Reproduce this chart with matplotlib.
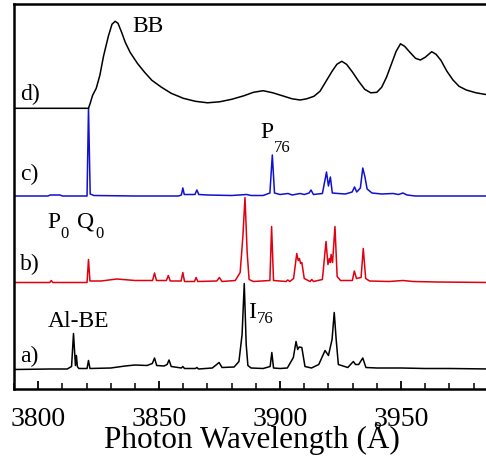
import matplotlib
matplotlib.use("Agg")
import matplotlib.pyplot as plt
from matplotlib.ticker import MultipleLocator

plt.rcParams['font.family'] = ['Liberation Serif', 'DejaVu Serif']

# a) Al-BE spectrum (black)
a_wl = [3790, 3805, 3812, 3813.8, 3814.6, 3815.4, 3815.8, 3816.2, 3816.8, 3820.2,
        3820.8, 3821.4, 3830, 3836, 3840, 3845, 3847.2, 3848.1, 3849.0, 3852,
        3853.3, 3854.1, 3855, 3859.2, 3859.8, 3860.5, 3865, 3865.6, 3866.3, 3872,
        3874.8, 3876, 3881, 3883, 3884.3, 3885.2, 3886.0, 3886.7, 3888, 3893,
        3895.9, 3896.6, 3897.3, 3900, 3903, 3905.5, 3906.6, 3907.3, 3907.9, 3909.0,
        3910.3, 3913, 3916, 3918.6, 3920.0, 3921.5, 3922.4, 3923.2, 3924.1, 3928,
        3930.3, 3931.2, 3932.5, 3934.2, 3935.5, 3940, 3950, 3960, 3970, 3987]
a_int = [0, 0.5, 0.5, 3, 36, 4, 14, 3, 1, 1,
         9, 1, 1.5, 3.5, 4.5, 4, 6, 11.5, 4, 3.5,
         5, 9.5, 3, 1.5, 3, 1, 1, 2, 0.5, 1.5,
         7, 2, 2.5, 8, 35, 86, 25, 4, 1.5, 1,
         3, 17, 1.5, 1, 1.5, 12, 28, 20, 22.5, 22,
         3, 1.5, 5, 19, 14, 30, 57, 30, 5, 2,
         8, 5, 5, 11.5, 2, 1.5, 1.5, 1, 1, 0.5]

# b) red spectrum
b_wl = [3790, 3804.8, 3805.4, 3806, 3820.2, 3820.8, 3821.4, 3826, 3832.5, 3840,
        3847.3, 3848.1, 3848.9, 3853, 3853.8, 3854.6, 3859.1, 3859.8, 3860.5, 3864.6,
        3865.3, 3866, 3873.8, 3874.9, 3876, 3881.5, 3883.5, 3884.6, 3885.5, 3886.4,
        3887.2, 3889, 3895.8, 3896.5, 3897.3, 3902.5, 3903.2, 3904, 3905.6, 3906.9,
        3907.5, 3908.0, 3908.5, 3909.0, 3910, 3912.4, 3913.1, 3913.8, 3917.5, 3919.0,
        3919.8, 3920.4, 3920.8, 3921.1, 3921.7, 3922.7, 3923.6, 3925, 3929.9, 3930.7,
        3931.6, 3933.5, 3934.4, 3935.4, 3937, 3945, 3950.8, 3955, 3965, 3987]
b_int = [0, 0, 2, 0, 0, 23, 1.5, 1.5, 3.5, 2,
         2, 9.5, 2, 2, 7, 1.5, 1.5, 10, 1, 1,
         5, 1, 1.5, 5, 1, 2, 10, 45, 85, 30,
         3, 1, 2, 56, 2, 1, 2.5, 1, 4, 29,
         22, 24, 19, 20, 4, 1, 3, 1, 3, 41,
         18, 24, 20, 28, 20, 56, 6, 2, 2, 11.5,
         4, 5, 34, 4, 1.5, 1, 2, 1, 0.5, 0]

# c) blue spectrum
c_wl = [3790, 3804, 3805, 3809, 3810, 3820.2, 3820.8, 3821.5, 3823, 3840,
        3858, 3859.2, 3859.8, 3860.4, 3864.8, 3865.6, 3866.4, 3870, 3880, 3886.2,
        3888, 3893, 3895.8, 3896.8, 3897.7, 3900, 3903.3, 3905, 3908.3, 3910,
        3912, 3912.8, 3913.8, 3917.5, 3918.5, 3919.2, 3920, 3920.8, 3921.6, 3924,
        3927, 3929.8, 3930.8, 3931.7, 3933.2, 3934.2, 3935.1, 3936, 3938, 3942,
        3946.7, 3949, 3950.8, 3952.5, 3956, 3987]
c_int = [0, 0, 1, 1, 0, 0, 88, 2, 0.5, 0,
         0, 1, 8, 1.5, 1.5, 6, 1.5, 1, 0.5, 1.5,
         0.5, 0.5, 3, 41, 3, 1.5, 2.5, 1, 2.5, 1.5,
         3, 6, 1.5, 2.5, 15, 24, 10, 19, 3, 2.5,
         2, 4, 9, 4, 8, 28, 19, 7, 3, 2,
         2.5, 1.5, 3, 1, 0, 0]

# d) BB spectrum (black, smooth)
d_wl = [3790, 3820.8, 3821.5, 3822.5, 3824, 3825.5, 3827, 3829, 3830.5, 3831.8,
        3833, 3834.5, 3836, 3838, 3841, 3844, 3847, 3851, 3855, 3860,
        3865, 3870, 3875, 3880, 3885, 3889, 3893, 3897, 3901, 3905,
        3908.3, 3911, 3914, 3916.5, 3919, 3921.5, 3923.5, 3925.5, 3927.5, 3930,
        3932.5, 3935, 3937.5, 3940, 3942, 3944, 3946, 3948, 3949.8, 3951.5,
        3953.7, 3956, 3958, 3960, 3962.7, 3964.5, 3966.5, 3969, 3971.5, 3974,
        3977, 3981, 3987]
d_int = [0, 0, 5, 13, 20, 33, 52, 72, 84, 87,
         85, 76, 66, 56, 45, 36, 28, 21, 15, 10,
         7, 5.5, 6.5, 9, 12.5, 16, 17.6, 15.5, 12.5, 9.5,
         8.3, 9.5, 12, 17, 27, 37, 44, 47, 44, 36,
         27, 19, 15.5, 16, 21, 31, 44, 57, 64.5, 62,
         56, 50, 48.3, 51, 56.6, 54, 48, 37, 28.3, 22,
         18.3, 15.5, 13]

offsets = [19.5, 106.5, 193, 280.7]
colors = ['black', '#e00010', '#1010d0', 'black']
panel_labels = ['a)', 'b)', 'c)', 'd)']

fig = plt.figure(figsize=(4.86, 4.59), dpi=100)
ax = fig.add_axes([14/486, 1-389/459, 476/486, 385/459])

spectra = [(a_wl, a_int), (b_wl, b_int), (c_wl, c_int), (d_wl, d_int)]
for (wl, inten), off, col in zip(spectra, offsets, colors):
    ax.plot(wl, [v + off for v in inten], color=col, lw=1.1)

ax.set_xlim(3790, 3986.8)
ax.set_ylim(0, 385)
ax.set_yticks([])
ax.xaxis.set_major_locator(MultipleLocator(50))
ax.xaxis.set_minor_locator(MultipleLocator(10))
ax.tick_params(axis='x', which='major', direction='in', length=6, width=1.3,
               labelsize=20, pad=13, top=False)
ax.tick_params(axis='x', which='minor', direction='in', length=4, width=1.1, top=False)
for s in ['left', 'top', 'bottom']:
    ax.spines[s].set_linewidth(1.8)
ax.spines['right'].set_visible(False)
ax.set_xlabel('Photon Wavelength (Å)', fontsize=22.5, labelpad=-7)

# panel labels
label_y = [27.3, 119, 209, 289]
for lab, ly in zip(panel_labels, label_y):
    ax.text(3792.6, ly, lab, fontsize=17, va='baseline', ha='left')

ax.text(3838.8, 357, 'BB', fontsize=17, va='baseline')
ax.text(3891.7, 251, 'P', fontsize=17, va='baseline')
ax.text(3897.5, 237, '76', fontsize=12, va='baseline')
ax.text(3803.7, 161, 'P', fontsize=17, va='baseline')
ax.text(3809.1, 151, '0', fontsize=12, va='baseline')
ax.text(3816.1, 161, 'Q', fontsize=17, va='baseline')
ax.text(3823.6, 151, '0', fontsize=12, va='baseline')
ax.text(3804.1, 62, 'Al-BE', fontsize=17, va='baseline')
ax.text(3886.8, 71, 'I', fontsize=17, va='baseline')
ax.text(3890.5, 66, '76', fontsize=12, va='baseline')

fig.savefig('out.png', dpi=100)
